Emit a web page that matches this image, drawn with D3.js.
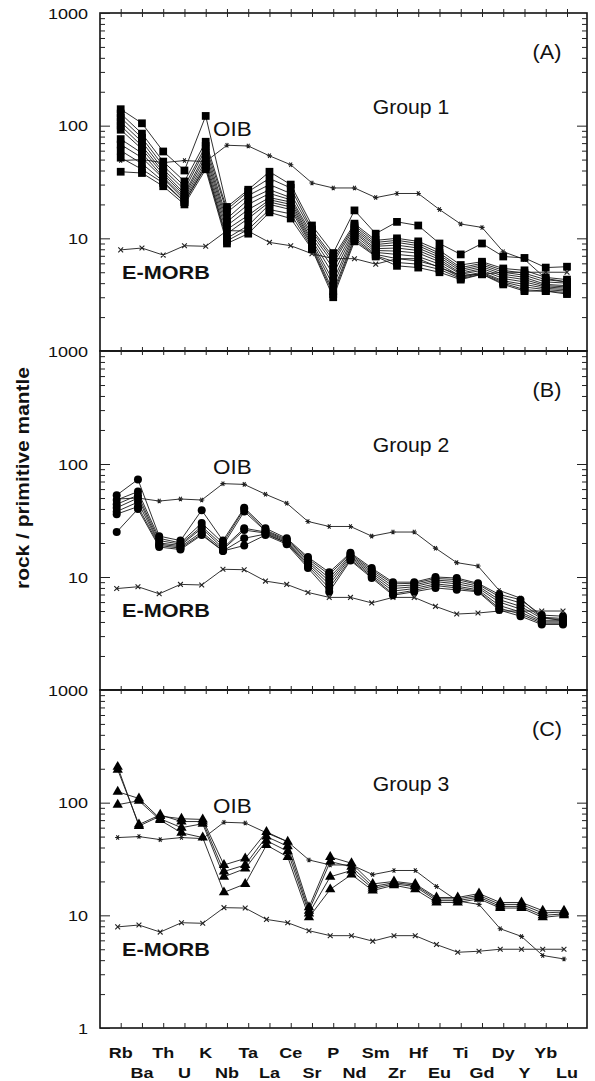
<!DOCTYPE html>
<html><head><meta charset="utf-8">
<script src="https://cdn.jsdelivr.net/npm/d3@7"></script>
<style>body{margin:0;background:#fff}svg{display:block}</style>
</head><body>
<svg id="c" width="595" height="1081"></svg>
<script>
const categories = ["Rb","Ba","Th","U","K","Nb","Ta","La","Ce","Sr","P","Nd","Sm","Zr","Hf","Eu","Ti","Gd","Dy","Y","Yb","Lu"];
const oib   = [49,50,47,49,48,67,66,54,45,31,28,28,23,25,25,18,13.4,12.5,7.6,6.5,4.4,4.1];
const emorb = [7.9,8.2,7.1,8.6,8.5,11.7,11.6,9.2,8.6,7.3,6.6,6.6,5.9,6.6,6.6,5.5,4.7,4.8,5,5,5,5];
const group1 = [
 [140,105,59,40,122,19,27,39,30,13,7.4,17.7,11,14,13,9,7.2,9,6.9,6.7,5.5,5.6],
 [128,85,48,32,72,18,26,34,28,12,6.8,13.5,9.6,10,9.4,7.8,5.8,6.2,5.4,5.2,4.5,4.3],
 [118,78,44,29,66,17,24,30,25,11.5,6.4,13,9.2,9.6,9,7.4,5.5,6,5.2,4.9,4.3,4.1],
 [108,72,41,27,62,15,22,27,23,10.8,6,12.5,8.8,9.2,8.6,7.1,5.3,5.8,5,4.7,4.1,4],
 [100,66,39,25,57,14,20,25,22,10.2,5.4,12,8.5,8.7,8.2,6.8,5.1,5.6,4.8,4.5,3.9,3.8],
 [92,62,37,24,53,13,18,23,21,9.6,4.8,11.6,8.1,8.2,7.8,6.5,4.9,5.4,4.6,4.3,3.8,3.7],
 [76,57,35,23,49,12,16,22,20,9.2,4.2,11.2,7.8,7.7,7.4,6.2,4.8,5.2,4.4,4.1,3.7,3.6],
 [68,52,34,22,46,11,15,21,19,8.8,3.8,10.7,7.5,7.2,6.9,5.9,4.6,5,4.2,3.9,3.6,3.5],
 [60,46,32,21,44,10,13,20,18,8.5,3.4,10.2,7.2,6.6,6.3,5.6,4.5,4.9,4.1,3.7,3.5,3.4],
 [52,41,31,21,43,9.5,12,18,16.5,8.2,3.2,9.8,7,6.1,5.9,5.3,4.4,4.8,4,3.5,3.4,3.3],
 [39,38,29,20,41,9,11,17,15,8,3,9.4,6.9,5.7,5.5,5,4.3,4.8,3.9,3.4,3.4,3.2]
];
const group2 = [
 [53,73,23,21,39,21,41,27,22,15,11,16.4,12,9,9,10,9.8,8.8,7,6.3,4.6,4.5],
 [48,57,22,20,30,20,40,26,21.5,14.5,10.5,16,11.6,8.7,8.8,9.7,9.5,8.6,6.7,5.9,4.4,4.3],
 [44,53,21,19.5,28,19,38,25.5,21,14,9.8,15.6,11.2,8.3,8.5,9.4,9.1,8.3,6.3,5.5,4.3,4.2],
 [41,50,20,19,27,18,27,25,20.5,13.5,9.2,15.2,10.8,7.9,8.2,9.1,8.7,8,6,5.2,4.1,4.1],
 [38,46,19.5,18.5,25,17.5,26,24.5,20,13,8.6,14.8,10.4,7.5,7.9,8.7,8.3,7.7,5.6,4.9,4,4],
 [36,42,19,18,24,17,22,24,20,12.5,8,14.3,10.1,7.1,7.6,8.4,8,7.5,5.3,4.7,3.9,3.9],
 [25,40,18.4,17.5,23.5,17,19,23.5,19.5,12,7.4,14,9.8,6.9,7.4,8,7.7,7.4,5.1,4.5,3.8,3.8]
];
const group3 = [
 [208,62,76,72,71,28,32,55,45,11.8,33,29,19,20,19,14.4,14.4,15.6,13,13,11,11],
 [196,64,78,68,68,24.5,28,50,41,11,30,27,18,19.5,18.5,14,14,15,12.5,12.5,10.5,10.7],
 [125,109,72,60,65,22,26,46,37,10.4,22,25,17.3,19,18,13.5,13.5,14.5,12,12,10,10.3],
 [96,104,70,54,49,16,19,42,33,9.6,17,23,16.6,18.5,17,13,13,14,11.6,11.6,9.6,10]
];
const panelLabels = ["(A)","(B)","(C)"];
const groupNames = ["Group 1","Group 2","Group 3"];
const yTitle = "rock / primitive mantle";

const svg = d3.select("#c");
const FONT = "'Liberation Sans', Arial, Helvetica, sans-serif";
const L = 100, R = 587;
const panels = [
  {top:13,  bottom:351,  data:group1, marker:d3.symbolSquare,   size:60, shift:0,  majors:[10,100,1000]},
  {top:351, bottom:690,  data:group2, marker:d3.symbolCircle,   size:50, shift:-4, majors:[10,100,1000]},
  {top:690, bottom:1028, data:group3, marker:d3.symbolTriangle, size:46, shift:-3, majors:[1,10,100,1000]}
];
const x = d3.scalePoint().domain(categories).range([120.7, 567]);

function stext(g, px, py, str, o) {
  return g.append("text")
    .attr("transform", `translate(${px},${py})` + (o.rot ? ` rotate(${o.rot})` : "") + ` scale(${o.sx||1},1)`)
    .attr("text-anchor", o.anchor || "start")
    .attr("font-family", FONT)
    .attr("font-size", o.size)
    .attr("font-weight", o.bold ? "bold" : "normal")
    .attr("fill", "#111")
    .text(str);
}

const minorVals = [];
[1,10,100].forEach(k => { for (let m = 2; m <= 9; m++) minorVals.push(k*m); });

const starPath = "M-2.6,0H2.6M-1.3,-2.25L1.3,2.25M-1.3,2.25L1.3,-2.25";
const timesPath = "M-2.4,-2.4L2.4,2.4M-2.4,2.4L2.4,-2.4";

panels.forEach((p, i) => {
  const y = d3.scaleLog().domain([1,1000]).range([p.bottom, p.top]);
  const g = svg.append("g");
  const px = j => x(categories[j]) + p.shift;
  const line = d3.line().x((d,j) => px(j)).y(d => y(d));

  // reference lines
  [[oib, starPath], [emorb, timesPath]].forEach(([arr, mk]) => {
    g.append("path").attr("d", line(arr)).attr("fill","none").attr("stroke","#333").attr("stroke-width",1);
    g.selectAll(null).data(arr).enter().append("path")
      .attr("d", mk).attr("transform", (d,j) => `translate(${px(j)},${y(d)})`)
      .attr("fill","none").attr("stroke","#222").attr("stroke-width",1.1);
  });

  // samples
  p.data.forEach(s => {
    g.append("path").attr("d", line(s)).attr("fill","none").attr("stroke","#1a1a1a").attr("stroke-width",0.9);
  });
  p.data.forEach(s => {
    g.selectAll(null).data(s).enter().append("path")
      .attr("d", d3.symbol().type(p.marker).size(p.size))
      .attr("transform", (d,j) => `translate(${px(j)},${y(d)})`)
      .attr("fill","#000");
  });

  // frame
  g.append("rect").attr("x",L).attr("y",p.top).attr("width",R-L).attr("height",p.bottom-p.top)
    .attr("fill","none").attr("stroke","#111").attr("stroke-width",1.6);

  // left / right log axes
  const lMinor = g.append("g").attr("transform",`translate(${L},0)`)
    .call(d3.axisLeft(y).tickValues(minorVals).tickSizeInner(-5).tickSizeOuter(0).tickFormat(""));
  const lMajor = g.append("g").attr("transform",`translate(${L},0)`)
    .call(d3.axisLeft(y).tickValues(p.majors).tickSizeInner(-10).tickSizeOuter(0).tickPadding(12).tickFormat(d3.format("d")));
  const rMinor = g.append("g").attr("transform",`translate(${R},0)`)
    .call(d3.axisRight(y).tickValues(minorVals).tickSizeInner(-5).tickSizeOuter(0).tickFormat(""));
  const rMajor = g.append("g").attr("transform",`translate(${R},0)`)
    .call(d3.axisRight(y).tickValues([10,100]).tickSizeInner(-10).tickSizeOuter(0).tickFormat(""));
  [lMinor,lMajor,rMinor,rMajor].forEach(a => {
    a.select(".domain").remove();
    a.selectAll("line").attr("stroke","#222").attr("stroke-width",1);
  });
  lMajor.selectAll("text").attr("x",0).attr("dy","0.35em")
    .attr("transform","translate(-12,0) scale(1.2,1)")
    .attr("font-family",FONT).attr("font-size",15).attr("fill","#111");

  // category ticks at top (crossing)
  [d3.axisTop(x), d3.axisBottom(x)].forEach(ax => {
    const a = g.append("g").attr("transform",`translate(0,${p.top})`)
      .call(ax.tickSizeInner(4).tickSizeOuter(0).tickFormat(""));
    a.select(".domain").remove();
    a.selectAll("line").attr("stroke","#222").attr("stroke-width",1);
  });
  if (i === 2) {
    const a = g.append("g").attr("transform",`translate(0,${p.bottom})`)
      .call(d3.axisTop(x).tickSizeInner(5).tickSizeOuter(0).tickFormat(""));
    a.select(".domain").remove();
    a.selectAll("line").attr("stroke","#222").attr("stroke-width",1);
  }

  // annotations
  stext(g, 547, p.top + 46, panelLabels[i], {size:20, sx:1.08, anchor:"middle"});
  stext(g, 411, p.top + 101, groupNames[i], {size:20, sx:1.06, anchor:"middle"});
  stext(g, 213, p.top + 123, "OIB", {size:21, sx:1.07});
  stext(g, 122, p.top + 266, "E-MORB", {size:19, sx:1.14, bold:true});
});

// category labels
categories.forEach((c, j) => {
  stext(svg, x(c), j % 2 === 0 ? 1058 : 1078, c, {size:15, sx:1.2, bold:true, anchor:"middle"});
});

// y title
stext(svg, 29, 478, yTitle, {size:19, sx:1.1, bold:true, anchor:"middle", rot:-90});
</script>
</body></html>
